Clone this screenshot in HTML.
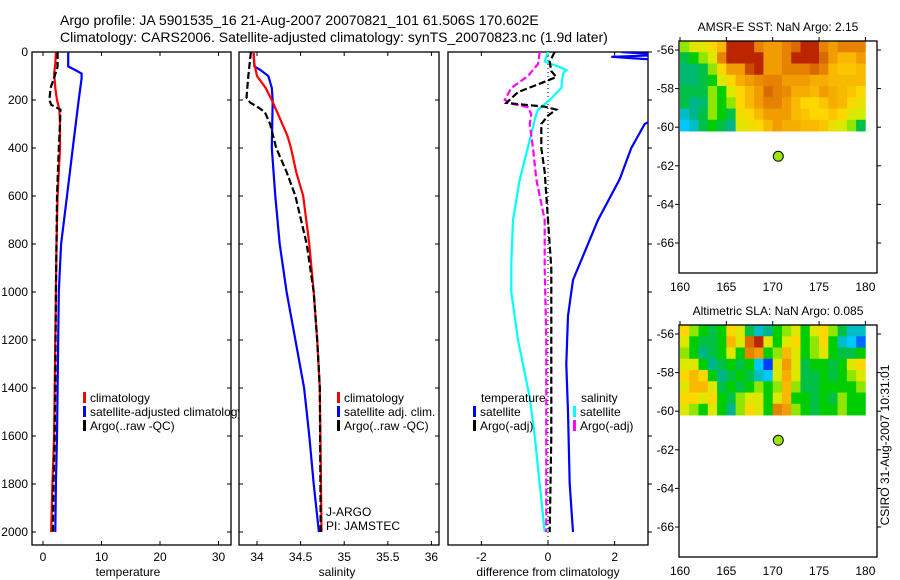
<!DOCTYPE html>
<html><head><meta charset="utf-8">
<style>
html,body{margin:0;padding:0;background:#fff;}
svg{display:block;font-family:"Liberation Sans",sans-serif;}
text{fill:#000;}
</style></head>
<body>
<svg id="fig" width="900" height="580" viewBox="0 0 900 580" xmlns="http://www.w3.org/2000/svg">
<defs>
<clipPath id="c1"><rect x="32" y="52" width="199" height="493"/></clipPath>
<clipPath id="c1l"><rect x="32" y="52" width="207" height="493"/></clipPath>
<clipPath id="c2"><rect x="239" y="52" width="200" height="493"/></clipPath>
<clipPath id="c3"><rect x="448" y="52" width="200" height="493"/></clipPath>
</defs>
<text x="60" y="25" font-size="14">Argo profile: JA 5901535_16 21-Aug-2007 20070821_101 61.506S 170.602E</text>
<text x="60" y="42" font-size="14">Climatology: CARS2006. Satellite-adjusted climatology: synTS_20070823.nc (1.9d later)</text>
<g id="g"></g>
</svg>
<script>
// ---- data ----
const depthClim = [0,50,90,150,200,240,300,400,600,800,1000,1200,1400,1600,1800,2000];
const tempClim  = [2.2,2.1,1.9,2.1,2.4,2.8,2.9,2.9,2.5,2.3,2.2,2.1,2.0,1.9,1.6,1.4];
const depthSat  = [0,60,75,90,110,200,400,600,800,1000,1200,1400,1600,1800,2000];
const tempSat   = [4.3,4.3,5.5,6.6,6.6,6.1,5.1,4.1,3.1,2.7,2.6,2.5,2.4,2.2,2.1];
const depthArgo = [0,60,100,150,200,220,240,300,400,600,800,1000,1200,1400,1600,1800,2000];
const tempArgo  = [2.5,2.5,2.0,1.3,1.1,1.4,3.0,2.9,2.7,2.4,2.3,2.2,2.15,2.1,2.0,1.8,1.7];

const salDepthClim = [0,50,100,150,200,250,350,400,500,600,800,1000,1200,1400,1700,2000];
const salClim      = [33.96,33.97,34.0,34.1,34.17,34.23,34.35,34.39,34.45,34.53,34.6,34.65,34.69,34.72,34.73,34.74];
const salDepthSat  = [0,60,75,100,150,200,400,600,800,1000,1200,1400,1600,1800,2000];
const salSat       = [33.96,33.97,34.04,34.13,34.17,34.18,34.17,34.21,34.26,34.34,34.44,34.54,34.6,34.65,34.71];
const salDepthArgo = [0,100,190,210,230,250,300,400,500,600,800,1000,1200,1400,2000];
const salArgo      = [33.93,33.9,33.88,33.92,34.01,34.09,34.15,34.22,34.34,34.44,34.57,34.65,34.69,34.72,34.73];

const dDepthTS = [0,12,20,35,100,250,300,400,530,700,950,1100,1300,1500,1800,2000];
const dTempSat = [2.2,3.5,1.9,3.5,4.5,3.6,2.9,2.5,2.15,1.5,0.75,0.6,0.55,0.6,0.65,0.75];
const dDepthTA = [0,40,80,104,135,167,212,228,240,265,300,400,500,700,900,1200,1600,2000];
const dTempArgo= [0.2,0.05,0.1,0.25,-0.3,-0.9,-1.25,-0.1,0.25,0.0,-0.2,-0.2,-0.1,0.0,0.1,0.1,0.1,0.05];
const dDepthSS = [0,40,60,75,90,150,200,240,283,367,533,700,880,1000,1200,1437,1600,1800,2000];
const dSalSat  = [0,-0.1,0.3,0.55,0.45,0.4,0.05,-0.3,-0.4,-0.55,-0.85,-1.05,-1.1,-1.1,-0.9,-0.55,-0.4,-0.25,-0.1];
const dDepthSA = [0,50,100,150,200,215,230,260,300,400,530,700,900,1200,2000];
const dSalArgo = [-0.25,-0.3,-0.6,-1.1,-1.3,-1.1,-0.6,-0.5,-0.55,-0.45,-0.35,-0.1,-0.1,-0.05,-0.05];

const depthTicks = [0,200,400,600,800,1000,1200,1400,1600,1800,2000];
const tempTicks = [0,10,20,30];
const salTicks = [34,34.5,35,35.5,36];
const salTickLabels = ["34","34.5","35","35.5","36"];
const diffTicks = [-2,0,2];
const lonTicks = [160,165,170,175,180];
const latTicks = [56,58,60,62,64,66];

const argoLon = 170.602, argoLat = 61.506;
const sstGrid = [
[0.55,0.6,0.6,0.65,0.7,0.95,0.95,0.95,0.8,0.75,0.75,0.8,0.85,0.95,0.95,0.8,0.75,0.8,0.8,0.8],
[0.45,0.5,0.55,0.6,0.8,0.95,0.95,0.95,0.95,0.75,0.75,0.8,0.95,0.95,0.95,0.85,0.75,0.7,0.7,0.75],
[0.42,0.42,0.45,0.55,0.65,0.75,0.75,0.9,0.95,0.75,0.75,0.8,0.8,0.8,0.85,0.8,0.7,0.68,0.68,0.7],
[0.42,0.42,0.45,0.5,0.6,0.65,0.72,0.75,0.78,0.8,0.8,0.75,0.75,0.75,0.72,0.72,0.7,0.7,0.7,0.7],
[0.45,0.45,0.45,0.55,0.5,0.6,0.65,0.7,0.75,0.85,0.8,0.78,0.72,0.72,0.7,0.75,0.72,0.7,0.68,0.65],
[0.45,0.4,0.42,0.55,0.5,0.55,0.65,0.7,0.75,0.8,0.8,0.75,0.7,0.65,0.65,0.68,0.72,0.7,0.65,0.62],
[0.35,0.4,0.45,0.55,0.5,0.45,0.62,0.65,0.7,0.75,0.75,0.75,0.7,0.68,0.65,0.65,0.68,0.65,0.6,0.58],
[0.3,0.35,0.45,0.5,0.45,0.4,0.6,0.62,0.65,0.7,0.75,0.72,0.72,0.7,0.7,0.68,0.62,0.6,0.55,0.45]];
const slaGrid = [
[.65,.55,.5,.45,.5,.65,.6,.45,.35,.4,.5,.55,.6,.5,.6,.65,.55,.45,.35,.35],
[.6,.5,.45,.45,.5,.7,.6,.85,.95,.6,.5,.6,.65,.5,.55,.65,.5,.35,.3,.2],
[.55,.5,.4,.45,.5,.6,.5,.8,.75,.5,.55,.7,.6,.5,.55,.6,.5,.45,.45,.5],
[.6,.6,.5,.4,.45,.5,.45,.5,.3,.15,.6,.75,.6,.45,.5,.5,.45,.5,.6,.65],
[.65,.7,.65,.5,.4,.45,.5,.45,.35,.3,.6,.72,.6,.45,.45,.5,.45,.5,.55,.6],
[.6,.7,.7,.6,.45,.5,.45,.5,.55,.5,.55,.7,.55,.45,.45,.5,.5,.5,.5,.55],
[.65,.65,.6,.65,.5,.45,.55,.6,.6,.5,.6,.7,.5,.5,.45,.5,.45,.55,.5,.5],
[.6,.55,.5,.6,.5,.4,.55,.65,.6,.5,.8,.75,.55,.5,.45,.5,.5,.55,.5,.5]];

// ---- drawing ----
const NS="http://www.w3.org/2000/svg";
const G=document.getElementById('g');
function mk(tag,attrs,parent){const e=document.createElementNS(NS,tag);for(const k in attrs)e.setAttribute(k,attrs[k]);(parent||G).appendChild(e);return e;}
const yD = d => 52 + d*0.24;
const xT = v => 43 + v*5.85;
const xS = v => 257 + (v-34)*87.2;
const xDf = v => 548 + v*33.33;

function axesBox(x0,x1,name){
  const r=mk('rect',{x:x0,y:52,width:x1-x0,height:493,fill:'none',stroke:'#000','stroke-width':1.3});
  
  
}
function line(xs,ds,sx,color,dash,clip,name){
  let p='';for(let i=0;i<xs.length;i++)p+=(i?'L':'M')+sx(xs[i]).toFixed(1)+','+yD(ds[i]).toFixed(1);
  const e=mk('path',{d:p,fill:'none',stroke:color,'stroke-width':2.2,'clip-path':'url(#'+clip+')'});
  if(dash)e.setAttribute('stroke-dasharray',dash);
  
  
}
function txt(x,y,s,anchor,name,size){
  const t=mk('text',{x:x,y:y,'font-size':size||12,'text-anchor':anchor||'start'});t.textContent=s;
  
  
  return t;
}
axesBox(32,231,'temperature-axes');axesBox(239,439,'salinity-axes');axesBox(448,648,'difference-axes');
depthTicks.forEach(d=>{
  const y=yD(d);
  txt(28,y+4,String(d),'end','depth-tick-label',12);
  [[32,36],[227,231],[239,243],[435,439],[648,652]].forEach(([a,b])=>mk('line',{x1:a,x2:b,y1:y,y2:y,stroke:'#000'}));
});
tempTicks.forEach(v=>{const x=xT(v);mk('line',{x1:x,x2:x,y1:52,y2:56,stroke:'#000'});mk('line',{x1:x,x2:x,y1:541,y2:545,stroke:'#000'});txt(x,561,String(v),'middle','temperature-tick-label');});
salTicks.forEach((v,i)=>{const x=xS(v);mk('line',{x1:x,x2:x,y1:52,y2:56,stroke:'#000'});mk('line',{x1:x,x2:x,y1:541,y2:545,stroke:'#000'});txt(x,561,salTickLabels[i],'middle','salinity-tick-label');});
diffTicks.forEach(v=>{const x=xDf(v);mk('line',{x1:x,x2:x,y1:52,y2:56,stroke:'#000'});mk('line',{x1:x,x2:x,y1:541,y2:545,stroke:'#000'});txt(x,561,String(v),'middle','difference-tick-label');});
txt(128,576,'temperature','middle','temperature-axis-title');
txt(337,576,'salinity','middle','salinity-axis-title');
txt(548,576,'difference from climatology','middle','difference-axis-title');
const zl=mk('line',{x1:xDf(0),x2:xDf(0),y1:52,y2:545,stroke:'#000','stroke-dasharray':'1,3'});


line(tempSat,depthSat,xT,'#0000ff',null,'c1','temp-satellite-line');
line(tempClim,depthClim,xT,'#ff0000',null,'c1','temp-climatology-line');
line(tempArgo,depthArgo,xT,'#000',"7,3",'c1','temp-argo-line');
line(salSat,salDepthSat,xS,'#0000ff',null,'c2','sal-satellite-line');
line(salClim,salDepthClim,xS,'#ff0000',null,'c2','sal-climatology-line');
line(salArgo,salDepthArgo,xS,'#000',"7,3",'c2','sal-argo-line');
line(dTempSat,dDepthTS,xDf,'#0000ff',null,'c3','diff-temp-satellite-line');
line(dSalSat,dDepthSS,xDf,'#00ffff',null,'c3','diff-sal-satellite-line');
line(dSalArgo,dDepthSA,xDf,'#ff00ff',"7,3",'c3','diff-sal-argo-line');
line(dTempArgo,dDepthTA,xDf,'#000',"7,3",'c3','diff-temp-argo-line');
function leg(x,y,color,label,clip){
  const g=mk('g',{'clip-path':clip?'url(#'+clip+')':''});
  
  
  if(color)mk('rect',{x:x,y:y-10,width:3,height:11,fill:color},g);
  const t=mk('text',{x:x+7,y:y,'font-size':12},g);t.textContent=label;
}
leg(83,402,'#f00','climatology','c1l');leg(83,416,'#00f','satellite-adjusted climatology','c1l');leg(83,430,'#000','Argo(..raw -QC)','c1l');
leg(337,402,'#f00','climatology');leg(337,416,'#00f','satellite adj. clim.');leg(337,430,'#000','Argo(..raw -QC)');
leg(474,402,null,'temperature');leg(473,416,'#00f','satellite');leg(473,430,'#000','Argo(-adj)');
leg(574,402,null,'salinity');leg(573,416,'#0ff','satellite');leg(573,430,'#f0f','Argo(-adj)');
txt(326,516,'J-ARGO','start','float-program-label');
txt(326,530,'PI: JAMSTEC','start','pi-label');
const stops=[[0,[0,0,140]],[0.15,[0,60,255]],[0.3,[0,200,255]],[0.4,[0,180,140]],[0.5,[0,205,0]],[0.57,[200,240,0]],[0.65,[255,215,0]],[0.76,[240,150,0]],[0.88,[210,90,0]],[1,[170,0,0]]];
function cmap(v){for(let i=1;i<stops.length;i++){if(v<=stops[i][0]){const a=stops[i-1],b=stops[i],t=(v-a[0])/(b[0]-a[0]);return 'rgb('+a[1].map((c,j)=>Math.round(c+(b[1][j]-c)*t)).join(',')+')';}}return 'rgb(170,0,0)';}
function map(top,title,grid,name){
  const lx=v=>680+(v-160)*9.27, ly=v=>(top+9)+(v-56)*19.3;
  mk('rect',{x:679,y:top,width:198,height:232,fill:'#fff',stroke:'none'});
  const rows=grid.length, y0=top, y1=ly(60.2), ch=(y1-y0)/rows;
  grid.forEach((row,r)=>row.forEach((v,c)=>{
    const cell=mk('rect',{x:(lx(160+c)).toFixed(2),y:(y0+r*ch).toFixed(2),width:9.6,height:(ch+0.4).toFixed(2),fill:cmap(v)});
    
    
  }));
  const fr=mk('rect',{x:679,y:top,width:198,height:232,fill:'none',stroke:'#000','stroke-width':1.3});
  
  
  lonTicks.forEach(v=>{const x=lx(v);mk('line',{x1:x,x2:x,y1:top-4,y2:top,stroke:'#000'});txt(x,top+250,String(v),'middle','longitude-tick-label');});
  latTicks.forEach(v=>{const y=ly(v);mk('line',{x1:675,x2:679,y1:y,y2:y,stroke:'#000'});mk('line',{x1:877,x2:881,y1:y,y2:y,stroke:'#000'});txt(674,y+4,'-'+v,'end','latitude-tick-label');});
  const d=mk('circle',{cx:lx(argoLon),cy:ly(argoLat),r:5,fill:'#99e600',stroke:'#000','stroke-width':1});
  
  
  txt(778,top-10,title,'middle',name+'-title');
}
map(41,'AMSR-E SST: NaN Argo: 2.15',sstGrid,'sst-map');
map(325,'Altimetric SLA: NaN Argo: 0.085',slaGrid,'sla-map');
const cs=txt(0,0,'CSIRO 31-Aug-2007 10:31:01','middle','timestamp-label',12);
cs.setAttribute('transform','translate(889,445) rotate(-90)');
</script>
</body></html>
